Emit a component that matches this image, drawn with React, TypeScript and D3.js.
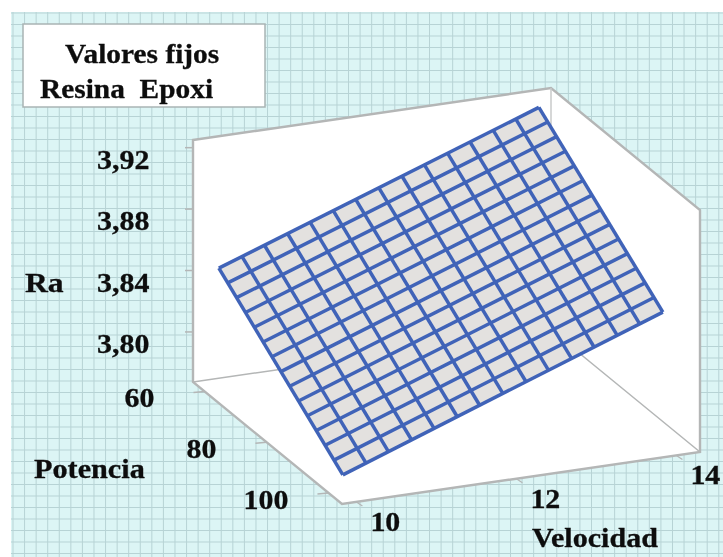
import React from "react";
import * as d3 from "d3";

// values
const velocidad = [10, 10.29, 10.57, 10.86, 11.14, 11.43, 11.71, 12, 12.29, 12.57, 12.86, 13.14, 13.43, 13.71, 14];
const potencia = [60, 62.86, 65.71, 68.57, 71.43, 74.29, 77.14, 80, 82.86, 85.71, 88.57, 91.43, 94.29, 97.14, 100];

// Ra along the four edges of the surface (each mesh line is straight between two edges)
const raAtP60 = [3.8463, 3.8516, 3.8569, 3.8622, 3.8676, 3.8729, 3.8782, 3.8835, 3.8888, 3.8941, 3.8994, 3.9047, 3.9101, 3.9154, 3.9207];
const raAtP100 = [3.7778, 3.7832, 3.7886, 3.794, 3.7994, 3.8048, 3.8102, 3.8157, 3.8211, 3.8265, 3.8319, 3.8373, 3.8427, 3.8481, 3.8535];
const raAtV10 = [3.8463, 3.8414, 3.8365, 3.8316, 3.8267, 3.8218, 3.8169, 3.812, 3.8072, 3.8023, 3.7974, 3.7925, 3.7876, 3.7827, 3.7778];
const raAtV14 = [3.9207, 3.9159, 3.9111, 3.9063, 3.9015, 3.8967, 3.8919, 3.8871, 3.8823, 3.8775, 3.8727, 3.8679, 3.8631, 3.8583, 3.8535];

const raTicks = [3.8, 3.84, 3.88, 3.92];
const potTicks = [60, 80, 100];
const velTicks = [10, 12, 14];

const vDomain = [9.82, 14.295];
const pDomain = [56.3, 104.37];
const zDomain = [3.7674, 3.925];

const width = 723, height = 557;

// oblique projection of the box
const originX = 193;
const xV = d3.scaleLinear().domain(vDomain).range([0, 358]);
const yV = d3.scaleLinear().domain(vDomain).range([0, -52]);
const xP = d3.scaleLinear().domain(pDomain).range([0, 149]);
const yP = d3.scaleLinear().domain(pDomain).range([0, 122]);
const yZ = d3.scaleLinear().domain(zDomain).range([382, 140]);

const project = (v: number, p: number, z: number): [number, number] => [
  originX + xV(v) + xP(p),
  yZ(z) + yV(v) + yP(p),
];

const [v0, v1] = vDomain;
const [p0, p1] = pDomain;
const [z0, z1] = zDomain;

const line = d3.line();
const gridColor = "#b7d3d5";
const boxColor = "#b4b6b6";
const meshColor = "#3f63b8";

function Label({ x, y, text, sx = 1.05 }: { x: number; y: number; text: string; sx?: number }) {
  return (
    <text
      transform={`translate(${x},${y}) scale(${sx},1)`}
      fontFamily="'Liberation Serif', serif"
      fontWeight="bold"
      fontSize={28}
      fill="#0f0f0f"
      stroke="#0f0f0f"
      strokeWidth={0.3}
      style={{ whiteSpace: "pre" }}
    >
      {text}
    </text>
  );
}

export default function App() {
  const gridX = d3.range(13, width, 11.57);
  const gridY = d3.range(13, height, 11.5);

  const outline = [
    project(v0, p0, z1), project(v1, p0, z1), project(v1, p1, z1),
    project(v1, p1, z0), project(v0, p1, z0), project(v0, p0, z0),
  ];

  const last = velocidad.length - 1;
  const surface = [
    project(velocidad[0], potencia[0], raAtP60[0]),
    project(velocidad[last], potencia[0], raAtP60[last]),
    project(velocidad[last], potencia[last], raAtP100[last]),
    project(velocidad[0], potencia[last], raAtP100[0]),
  ];

  return (
    <svg width={width} height={height} style={{ position: "absolute", left: 0, top: 0 }}>
      <defs>
        <filter id="soft"><feGaussianBlur stdDeviation="0.45" /></filter>
      </defs>
      <rect width={width} height={height} fill="#ffffff" />
      <g filter="url(#soft)">
        {/* squared paper background */}
        <rect x={11} y={12} width={width - 11} height={height - 12} fill="#dcf5f5" />
        {gridX.map((x) => <line key={x} x1={x} x2={x} y1={12} y2={height} stroke={gridColor} strokeWidth={1} />)}
        {gridY.map((y) => <line key={y} y1={y} y2={y} x1={11} x2={width} stroke={gridColor} strokeWidth={1} />)}

        {/* box */}
        <path d={line(outline) + "Z"} fill="#ffffff" stroke={boxColor} strokeWidth={2.4} />
        <path d={line([project(v1, p0, z1), project(v1, p0, z0)]) ?? ""} stroke="#c8caca" strokeWidth={1.5} fill="none" />
        <path d={line([project(v0, p0, z0), project(v1, p0, z0), project(v1, p1, z0)]) ?? ""} stroke={boxColor} strokeWidth={1.5} fill="none" />

        {/* ticks */}
        {raTicks.map((t) => {
          const [x, y] = project(v0, p0, t);
          return <line key={t} x1={x - 8} x2={x} y1={y} y2={y} stroke={boxColor} strokeWidth={1.5} />;
        })}
        {potTicks.map((t) => {
          const [x, y] = project(v0, t, z0);
          return <line key={t} x1={x - 11} x2={x} y1={y + 1} y2={y} stroke={boxColor} strokeWidth={1.5} />;
        })}
        {velTicks.map((t) => {
          const [x, y] = project(t, p1, z0);
          return <line key={t} x1={x} x2={x + 6} y1={y} y2={y + 4} stroke={boxColor} strokeWidth={1.2} />;
        })}

        {/* surface */}
        <path d={line(surface) + "Z"} fill="#e3e1df" stroke="none" />
        {velocidad.map((v, i) => (
          <path
            key={v}
            d={line([project(v, potencia[0], raAtP60[i]), project(v, potencia[last], raAtP100[i])]) ?? ""}
            stroke={meshColor}
            strokeWidth={3.5}
            fill="none"
          />
        ))}
        {potencia.map((p, i) => (
          <path
            key={p}
            d={line([project(velocidad[0], p, raAtV10[i]), project(velocidad[last], p, raAtV14[i])]) ?? ""}
            stroke={meshColor}
            strokeWidth={3.5}
            fill="none"
          />
        ))}

        {/* legend box */}
        <rect x={23} y={24} width={242} height={83} fill="#ffffff" stroke="#a9b4b4" strokeWidth={1.5} />
        <Label x={65} y={63} text="Valores fijos" />
        <Label x={40} y={98} text="Resina  Epoxi" />

        {/* Ra axis */}
        {raTicks.map((t) => (
          <Label key={t} x={97} y={yZ(t) + 21} text={d3.format(".2f")(t).replace(".", ",")} sx={1.07} />
        ))}
        <Label x={25} y={292} text="Ra" sx={1.13} />

        {/* Potencia axis */}
        {potTicks.map((t) => {
          const [x, y] = project(v0, t, z0);
          return <Label key={t} x={x - (t === 100 ? 85 : 80)} y={y + 16} text={String(t)} sx={1.07} />;
        })}
        <Label x={34} y={478} text="Potencia" sx={1.08} />

        {/* Velocidad axis */}
        {velTicks.map((t) => {
          const [x, y] = project(t, p1, z0);
          return <Label key={t} x={x + 14} y={y + 29} text={String(t)} sx={1.07} />;
        })}
        <Label x={532} y={547} text="Velocidad" sx={1.075} />
      </g>
    </svg>
  );
}
